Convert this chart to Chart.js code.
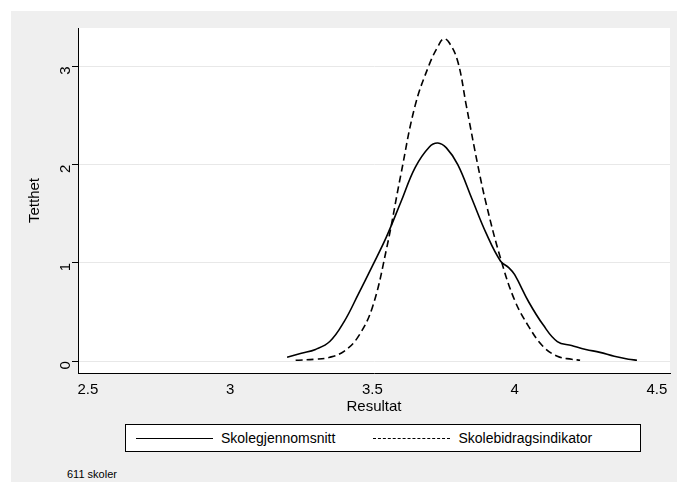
<!DOCTYPE html>
<html><head><meta charset="utf-8">
<script src="https://cdn.jsdelivr.net/npm/chart.js@4"></script>
<style>
body{margin:0;background:#fff;font-family:"Liberation Sans",Arial,sans-serif;overflow:hidden;}
#bg{position:absolute;left:11px;top:11px;width:666px;height:471px;background:#efefef;}
#wrap{position:absolute;left:0;top:0;width:677px;height:420px;}
#legend{position:absolute;left:125px;top:424px;width:514px;height:26px;border:1px solid #000;background:#fff;display:flex;align-items:center;font-size:14px;}
.ln{display:inline-block;width:77px;height:0;border-top:1.6px solid #000;margin:0 8px 0 10px;}
.ln.d{border-top:1.6px dashed #000;margin-left:38px;}
#note{position:absolute;left:67px;top:468px;font-size:11px;}
</style></head><body>
<div id="bg"></div>
<div id="wrap"><canvas id="c"></canvas></div>
<div id="legend"><span class="ln"></span>Skolegjennomsnitt<span class="ln d"></span>Skolebidragsindikator</div>
<div id="note">611 skoler</div>
<script>
const xTicks = [2.5, 3, 3.5, 4, 4.5];
const yTicks = [0, 1, 2, 3];
const solidX = [3.2,3.25,3.3,3.35,3.4,3.45,3.5,3.55,3.6,3.65,3.7,3.73,3.76,3.8,3.85,3.9,3.95,3.98,4.0,4.05,4.1,4.15,4.2,4.25,4.3,4.35,4.4,4.43];
const solidY = [0.04,0.08,0.12,0.2,0.4,0.68,0.97,1.27,1.62,1.97,2.18,2.22,2.17,2.0,1.65,1.3,1.02,0.95,0.88,0.6,0.37,0.2,0.16,0.12,0.09,0.05,0.02,0.01];
const dashX = [3.23,3.3,3.35,3.4,3.45,3.5,3.55,3.6,3.65,3.7,3.73,3.75,3.77,3.8,3.83,3.87,3.9,3.95,4.0,4.05,4.1,4.15,4.2,4.23];
const dashY = [0.01,0.02,0.04,0.1,0.25,0.55,1.15,1.9,2.6,3.02,3.2,3.28,3.24,3.05,2.6,2.0,1.6,1.05,0.62,0.35,0.15,0.05,0.02,0.01];
const pts = (xs, ys) => xs.map((x, i) => ({x, y: ys[i]}));
const plotBg = {id:'plotBg', beforeDraw(ch){const a=ch.chartArea,c=ch.ctx;c.save();c.fillStyle='#fff';c.fillRect(a.left,a.top,a.right-a.left,a.bottom-a.top);c.restore();}};
const f = {size:15, family:'Liberation Sans'};
new Chart(document.getElementById('c'), {
  type: 'line',
  data: { datasets: [
    {data: pts(solidX, solidY), borderColor:'#000', borderWidth:1.6, pointRadius:0, tension:0.4},
    {data: pts(dashX, dashY), borderColor:'#000', borderWidth:1.6, borderDash:[7,4], pointRadius:0, tension:0.4}
  ]},
  options: {
    responsive:true, maintainAspectRatio:false, animation:false,
    layout:{padding:{top:28,right:7,left:26,bottom:0}},
    plugins:{legend:{display:false}, tooltip:{enabled:false}},
    scales:{
      x:{type:'linear', min:2.465, max:4.546, afterBuildTicks:s=>{s.ticks=xTicks.map(v=>({value:v}));},
         afterFit:s=>{s.height=47;},
         grid:{display:false, drawTicks:true, tickLength:6, tickColor:'#000'}, border:{color:'#000'},
         ticks:{color:'#000', font:f, maxRotation:0, padding:2, callback:v=>String(v)},
         title:{display:true, text:'Resultat', color:'#000', font:f, padding:{top:-4}}},
      y:{min:-0.12, max:3.39, afterBuildTicks:s=>{s.ticks=yTicks.map(v=>({value:v}));},
         afterFit:s=>{s.width=52;},
         grid:{color:'#e8e8e8', tickColor:'#000', tickLength:6}, border:{color:'#000'},
         ticks:{color:'#000', font:f, maxRotation:90, minRotation:90, padding:6},
         title:{display:true, text:'Tetthet', color:'#000', font:f, padding:0}}
    }
  },
  plugins:[plotBg]
});
</script></body></html>
